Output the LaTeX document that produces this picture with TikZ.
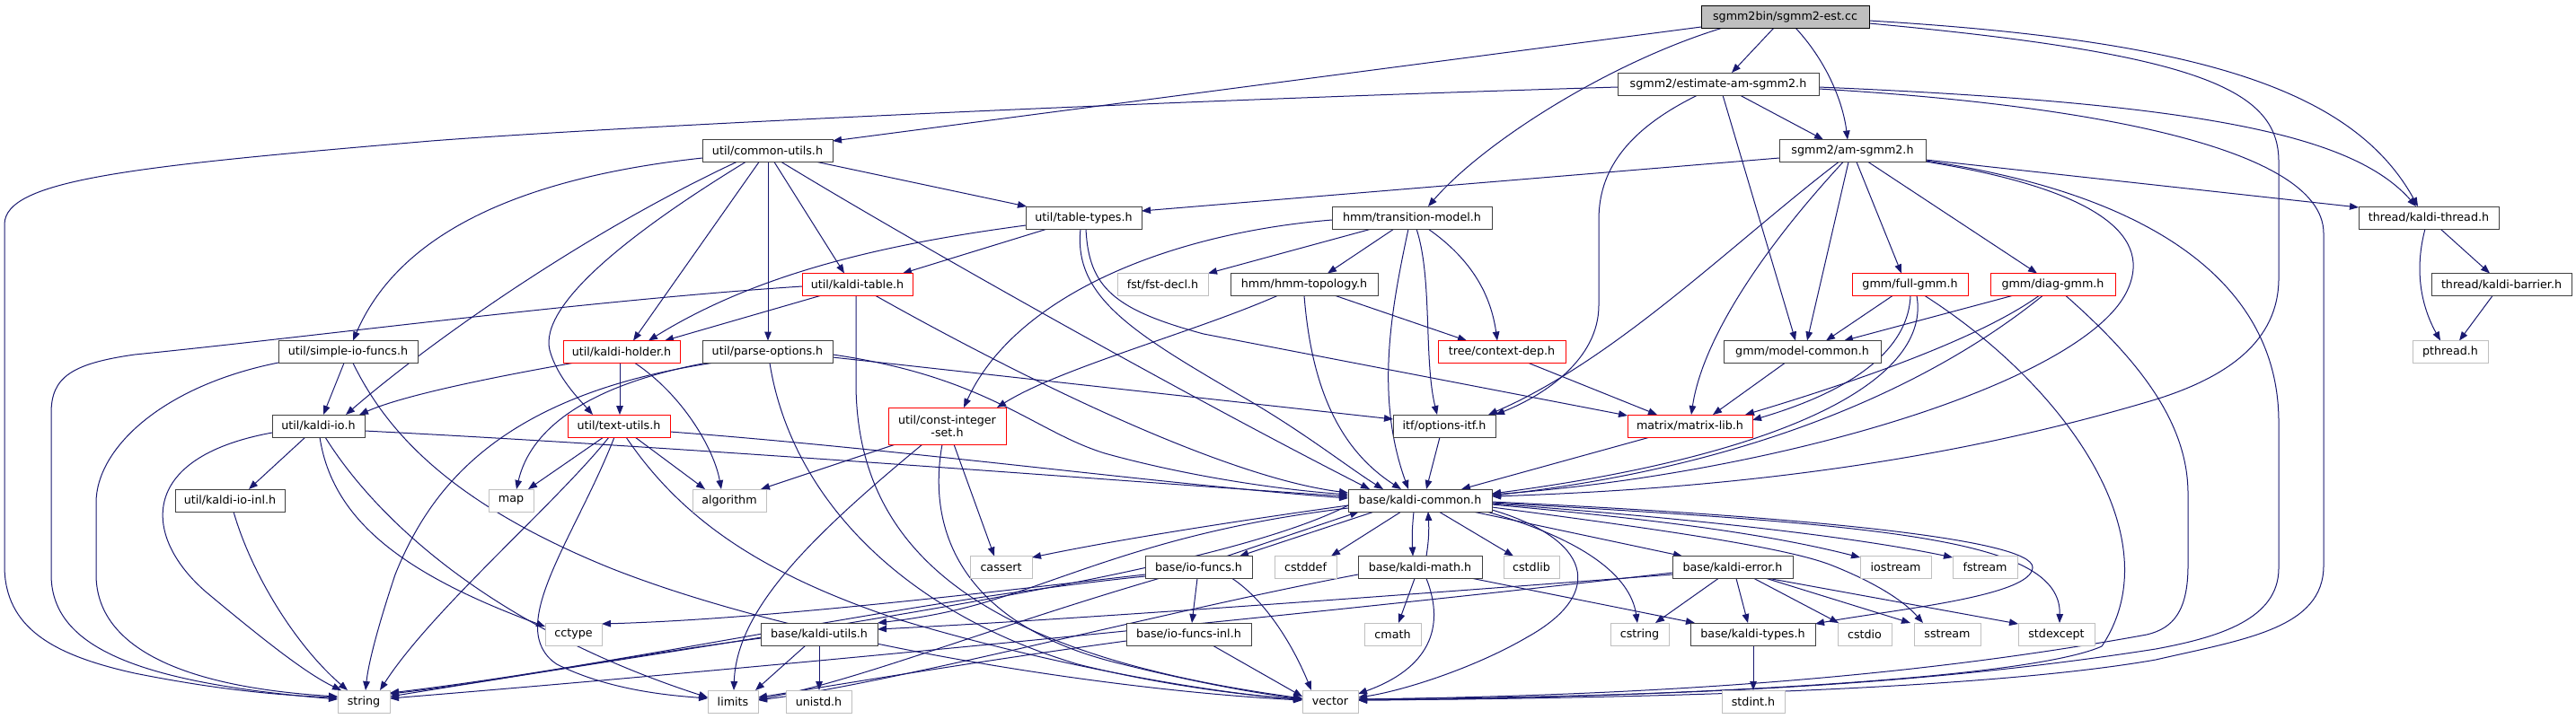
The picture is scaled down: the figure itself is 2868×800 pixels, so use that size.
\documentclass[tikz,border=0pt]{standalone}
\usepackage{fontspec}
\setmainfont{DejaVu Sans}
\usetikzlibrary{arrows.meta,calc,backgrounds}
\definecolor{edgec}{HTML}{191970}
\definecolor{nodeb}{HTML}{404040}
\definecolor{greyb}{HTML}{BFBFBF}
\definecolor{rootf}{HTML}{BFBFBF}
\tikzset{
  box/.style={draw, rectangle, inner sep=0pt, minimum height=12.5pt, fill=white, line width=0.5pt, font=\fontsize{6.35pt}{7.2pt}\selectfont, text=black},
  nb/.style={box, draw=nodeb},
  rb/.style={box, draw=red},
  gb/.style={box, draw=greyb},
  rootb/.style={box, draw=black, fill=rootf},
  e/.style={draw=edgec, line width=0.5pt, -{Triangle[length=5pt,width=3.8pt]}},
}
\begin{document}
\begin{tikzpicture}[x=0.5pt,y=-0.5pt]
\useasboundingbox (0,0) rectangle (2868,800);
% row 0-3
\node[rootb, minimum width=93.5pt] (est) at (1987.5,18.5) {sgmm2bin/sgmm2-est.cc};
\node[nb, minimum width=112pt] (eam) at (1913,93.5) {sgmm2/estimate-am-sgmm2.h};
\node[nb, minimum width=72.5pt] (cu) at (854.5,168) {util/common-utils.h};
\node[nb, minimum width=81.5pt] (am) at (2062.5,168) {sgmm2/am-sgmm2.h};
\node[nb, minimum width=64.5pt] (tt) at (1206.5,242.5) {util/table-types.h};
\node[nb, minimum width=89pt] (tm) at (1572,242.5) {hmm/transition-model.h};
\node[nb, minimum width=78pt] (kth) at (2704,242.5) {thread/kaldi-thread.h};
% row 4
\node[rb, minimum width=61.5pt] (kt) at (954.5,317) {util/kaldi-table.h};
\node[gb, minimum width=50.5pt] (fst) at (1294.5,317) {fst/fst-decl.h};
\node[nb, minimum width=82pt] (topo) at (1452,317) {hmm/hmm-topology.h};
\node[rb, minimum width=64.5pt] (fg) at (2126.5,317) {gmm/full-gmm.h};
\node[rb, minimum width=69.5pt] (dg) at (2285.5,317) {gmm/diag-gmm.h};
\node[nb, minimum width=78pt] (kb) at (2785,317) {thread/kaldi-barrier.h};
% row 5
\node[nb, minimum width=77.5pt] (sio) at (387.5,392) {util/simple-io-funcs.h};
\node[rb, minimum width=65pt] (kh) at (692,392) {util/kaldi-holder.h};
\node[nb, minimum width=72.5pt] (po) at (854.5,392) {util/parse-options.h};
\node[rb, minimum width=71pt] (cd) at (1672,392) {tree/context-dep.h};
\node[nb, minimum width=87.5pt] (mc) at (2006.5,392) {gmm/model-common.h};
\node[gb, minimum width=42pt] (pth) at (2728,392) {pthread.h};
% row 6
\node[nb, minimum width=51.5pt] (kio) at (354.5,474.5) {util/kaldi-io.h};
\node[rb, minimum width=57pt] (tu) at (689,474.5) {util/text-utils.h};
\node[rb, minimum width=65.5pt, minimum height=20.5pt, align=center] (cis) at (1054.5,474.5) {util/const-integer\\-set.h};
\node[nb, minimum width=57pt] (oi) at (1608,474.5) {itf/options-itf.h};
\node[rb, minimum width=69.5pt] (ml) at (1881.5,474.5) {matrix/matrix-lib.h};
% row 7
\node[nb, minimum width=61pt] (kioinl) at (256,557.5) {util/kaldi-io-inl.h};
\node[gb, minimum width=25pt] (map) at (569,557.5) {map};
\node[gb, minimum width=41pt] (alg) at (812,557.5) {algorithm};
\node[nb, minimum width=80pt] (kc) at (1581,557.5) {base/kaldi-common.h};
% row 8
\node[gb, minimum width=34.5pt] (cassert) at (1114.5,632) {cassert};
\node[nb, minimum width=59.5pt] (iof) at (1334.5,632) {base/io-funcs.h};
\node[gb, minimum width=34.5pt] (cstddef) at (1453.5,632) {cstddef};
\node[nb, minimum width=69pt] (km) at (1581,632) {base/kaldi-math.h};
\node[gb, minimum width=31pt] (cstdlib) at (1705,632) {cstdlib};
\node[nb, minimum width=67pt] (ke) at (1929,632) {base/kaldi-error.h};
\node[gb, minimum width=39.5pt] (iostream) at (2110.5,632) {iostream};
\node[gb, minimum width=36pt] (fstream) at (2210,632) {fstream};
% row 9
\node[gb, minimum width=31.5pt] (cctype) at (638.5,706.5) {cctype};
\node[nb, minimum width=65pt] (ku) at (912,706.5) {base/kaldi-utils.h};
\node[nb, minimum width=69.5pt] (iofinl) at (1323.5,706.5) {base/io-funcs-inl.h};
\node[gb, minimum width=31.5pt] (cmath) at (1550.5,706.5) {cmath};
\node[gb, minimum width=32.5pt] (cstring) at (1825.5,706.5) {cstring};
\node[nb, minimum width=69.5pt] (ktypes) at (1951.5,706.5) {base/kaldi-types.h};
\node[gb, minimum width=30pt] (cstdio) at (2076,706.5) {cstdio};
\node[gb, minimum width=37pt] (sstream) at (2168,706.5) {sstream};
\node[gb, minimum width=42.5pt] (stdexcept) at (2289.5,706.5) {stdexcept};
% row 10
\node[gb, minimum width=29pt] (string) at (405,781.5) {string};
\node[gb, minimum width=28pt] (limits) at (816,781.5) {limits};
\node[gb, minimum width=36.5pt] (unistd) at (911.5,781.5) {unistd.h};
\node[gb, minimum width=31pt] (vector) at (1481,781.5) {vector};
\node[gb, minimum width=35pt] (stdint) at (1952,781.5) {stdint.h};

\begin{pgfonlayer}{background}
% est
\draw[e] ($(est)+(-12.5,12.5)$) -- ($(eam)+(15,-12.5)$);
\draw[e] ($(est)+(11.5,12.5)$) .. controls (2035,70) and (2052,115) .. ($(am)+(-5.5,-12.5)$);
\draw[e] ($(est)+(-93.5,11.5)$) -- ($(cu)+(72.5,-11)$);
\draw[e] ($(est)+(-69.5,12.5)$) .. controls (1790,70) and (1650,160) .. ($(tm)+(18,-12.5)$);
\draw[e] ($(est)+(93.5,4.5)$) .. controls (2450,45) and (2620,100) .. ($(kth)+(-12,-12.5)$);
\draw[e] ($(est)+(93.5,7.5)$) .. controls (2450,60) and (2537,100) .. (2537,180) -- (2537,310) .. controls (2537,380) and (2480,420) .. (2400,445) .. controls (2150,520) and (1900,545) .. ($(kc)+(80,-4.5)$);
% eam
\draw[e] ($(eam)+(-112,3.5)$) .. controls (1300,112) and (700,140) .. (480,157) .. controls (150,185) and (5,200) .. (5,250) -- (5,630) .. controls (5,700) and (60,730) .. (150,750) .. controls (250,770) and (320,775) .. ($(string)+(-29,-4.5)$);
\draw[e] ($(eam)+(24,12.5)$) -- ($(am)+(-32.5,-12.5)$);
\draw[e] ($(eam)+(5,12.5)$) -- ($(mc)+(-7.5,-12.5)$);
\draw[e] ($(eam)+(-23,12.5)$) .. controls (1800,150) and (1780,200) .. (1780,245) -- (1780,340) .. controls (1780,400) and (1720,440) .. ($(oi)+(57,-12.5)$);
\draw[e] ($(eam)+(112,3.5)$) .. controls (2450,115) and (2620,150) .. ($(kth)+(-14,-12.5)$);
\draw[e] ($(eam)+(112,5.5)$) .. controls (2300,115) and (2587,160) .. (2587,260) -- (2587,630) .. controls (2587,700) and (2500,712) .. (2400,735) .. controls (2200,770) and (1800,778) .. ($(vector)+(31,-1.5)$);
% am
\draw[e] ($(am)+(-81.5,8)$) -- ($(tt)+(64.5,-7.5)$);
\draw[e] ($(am)+(81.5,10)$) -- ($(kth)+(-78,-11.5)$);
\draw[e] ($(am)+(81.5,11)$) .. controls (2420,220) and (2537,330) .. (2537,470) -- (2537,633) .. controls (2537,690) and (2470,710) .. (2400,723) .. controls (2100,770) and (1800,776) .. ($(vector)+(31,-2.5)$);
\draw[e] ($(am)+(81.5,12)$) .. controls (2330,210) and (2395,260) .. (2370,320) .. controls (2330,420) and (2000,525) .. ($(kc)+(80,-6.5)$);
\draw[e] ($(am)+(-15.5,12.5)$) .. controls (1930,270) and (1800,400) .. ($(oi)+(49,-12.5)$);
\draw[e] ($(am)+(-10.5,12.5)$) .. controls (1960,280) and (1895,380) .. ($(ml)+(1.5,-12.5)$);
\draw[e] ($(am)+(-4.5,12.5)$) -- ($(mc)+(5.5,-12.5)$);
\draw[e] ($(am)+(4.5,12.5)$) -- ($(fg)+(-9.5,-12.5)$);
\draw[e] ($(am)+(17.5,12.5)$) -- ($(dg)+(-17.5,-12.5)$);
% cu
\draw[e] ($(cu)+(-72.5,8)$) .. controls (560,200) and (440,270) .. ($(sio)+(5.5,-12.5)$);
\draw[e] ($(cu)+(-34.5,12.5)$) .. controls (650,260) and (480,380) .. ($(kio)+(30.5,-12.5)$);
\draw[e] ($(cu)+(-24.5,12.5)$) .. controls (700,260) and (600,340) .. (612,390) .. controls (620,420) and (645,445) .. ($(tu)+(-29,-12.5)$);
\draw[e] ($(cu)+(-9.5,12.5)$) -- ($(kh)+(13,-12.5)$);
\draw[e] ($(cu)+(0.5,12.5)$) -- ($(po)+(0.5,-12.5)$);
\draw[e] ($(cu)+(7.5,12.5)$) -- ($(kt)+(-14.5,-12.5)$);
\draw[e] ($(cu)+(15.5,12.5)$) .. controls (1000,260) and (1300,430) .. ($(kc)+(-56,-12.5)$);
\draw[e] ($(cu)+(55.5,12.5)$) -- ($(tt)+(-63.5,-12.5)$);
% tt
\draw[e] ($(tt)+(-64.5,8.5)$) .. controls (1000,270) and (850,300) .. ($(kh)+(30,-12.5)$);
\draw[e] ($(tt)+(-40.5,12.5)$) -- ($(kt)+(50.5,-12.5)$);
\draw[e] ($(tt)+(-3.5,12.5)$) .. controls (1195,330) and (1260,370) .. (1380,440) .. controls (1450,480) and (1500,520) .. ($(kc)+(-41,-12.5)$);
\draw[e] ($(tt)+(2.5,12.5)$) .. controls (1212,320) and (1240,345) .. (1340,372) -- ($(ml)+(-69.5,-11.5)$);
% tm
\draw[e] ($(tm)+(-89,2.5)$) .. controls (1300,260) and (1130,330) .. ($(cis)+(18.5,-20.5)$);
\draw[e] ($(tm)+(-45,12.5)$) -- ($(fst)+(50.5,-12.5)$);
\draw[e] ($(tm)+(-20,12.5)$) -- ($(topo)+(26,-12.5)$);
\draw[e] ($(tm)+(-4,12.5)$) .. controls (1550,340) and (1530,440) .. ($(kc)+(-13,-12.5)$);
\draw[e] ($(tm)+(5,12.5)$) .. controls (1595,310) and (1585,400) .. ($(oi)+(-8,-12.5)$);
\draw[e] ($(tm)+(18,12.5)$) .. controls (1640,290) and (1660,330) .. ($(cd)+(-5,-12.5)$);
% kt
\draw[e] ($(kt)+(-61.5,2)$) .. controls (650,335) and (350,375) .. (150,395) .. controls (80,405) and (57,420) .. (57,460) -- (57,640) .. controls (57,720) and (150,760) .. ($(string)+(-29,-2.5)$);
\draw[e] ($(kt)+(-41.5,12.5)$) -- ($(kh)+(48,-12.5)$);
\draw[e] ($(kt)+(20.5,12.5)$) .. controls (1100,400) and (1350,530) .. ($(kc)+(-80,-8.5)$);
\draw[e] ($(kt)+(-1.5,12.5)$) -- (953,430) .. controls (955,620) and (1100,730) .. ($(vector)+(-31,-3.5)$);
% kh
\draw[e] ($(kh)+(-55,12.5)$) .. controls (550,420) and (450,440) .. ($(kio)+(45.5,-12.5)$);
\draw[e] ($(kh)+(-2,12.5)$) -- ($(tu)+(1,-12.5)$);
\draw[e] ($(kh)+(15,12.5)$) .. controls (760,440) and (795,500) .. ($(alg)+(-9,-12.5)$);
% po
\draw[e] ($(po)+(-69.5,12.5)$) .. controls (650,430) and (590,480) .. ($(map)+(6,-12.5)$);
\draw[e] ($(po)+(-62.5,12.5)$) .. controls (560,440) and (480,540) .. (440,640) .. controls (420,700) and (410,740) .. ($(string)+(2,-12.5)$);
\draw[e] ($(po)+(2.5,12.5)$) .. controls (880,550) and (1000,680) .. (1200,740) .. controls (1300,765) and (1400,776) .. ($(vector)+(-31,-2.5)$);
\draw[e] ($(po)+(72.5,6)$) -- ($(oi)+(-57,-7.5)$);
\draw[e] ($(po)+(72.5,3)$) .. controls (1100,420) and (1150,480) .. (1230,505) .. controls (1320,530) and (1420,545) .. ($(kc)+(-80,-6.5)$);
% sio
\draw[e] ($(sio)+(-4.5,12.5)$) -- ($(kio)+(5.5,-12.5)$);
\draw[e] ($(sio)+(-77.5,12)$) .. controls (180,430) and (107,500) .. (107,560) -- (107,640) .. controls (107,720) and (200,765) .. ($(string)+(-29,-5.5)$);
\draw[e] ($(sio)+(5.5,12.5)$) .. controls (430,480) and (500,560) .. (680,633) .. controls (900,720) and (1250,770) .. ($(vector)+(-31,-1.5)$);
% kio
\draw[e] ($(kio)+(-14.5,12.5)$) -- ($(kioinl)+(21,-12.5)$);
\draw[e] ($(kio)+(-51.5,7.5)$) .. controls (150,510) and (160,600) .. (230,660) .. controls (290,710) and (340,750) .. ($(string)+(-25,-12.5)$);
\draw[e] ($(kio)+(1.5,12.5)$) .. controls (370,580) and (450,640) .. ($(cctype)+(-31.5,-8.5)$);
\draw[e] ($(kio)+(7.5,12.5)$) .. controls (420,580) and (550,700) .. ($(limits)+(-28,-4.5)$);
\draw[e] ($(kio)+(51.5,5.5)$) .. controls (800,500) and (1300,540) .. ($(kc)+(-80,-4.5)$);
\draw[e] ($(kioinl)+(4,12.5)$) .. controls (280,640) and (330,720) .. ($(string)+(-18,-12.5)$);
% tu
\draw[e] ($(tu)+(-17,12.5)$) -- ($(map)+(19,-12.5)$);
\draw[e] ($(tu)+(-11,12.5)$) .. controls (620,560) and (480,680) .. ($(string)+(18,-12.5)$);
\draw[e] ($(tu)+(-5,12.5)$) .. controls (640,600) and (560,700) .. (620,740) .. controls (680,770) and (750,775) .. ($(limits)+(-28,-3.5)$);
\draw[e] ($(tu)+(8,12.5)$) .. controls (760,580) and (850,640) .. (1000,690) .. controls (1200,750) and (1380,775) .. ($(vector)+(-31,-2.5)$);
\draw[e] ($(tu)+(18,12.5)$) -- ($(alg)+(-27,-12.5)$);
\draw[e] ($(tu)+(57,6.5)$) .. controls (1000,500) and (1300,540) .. ($(kc)+(-80,-2.5)$);
% cis
\draw[e] ($(cis)+(-57.5,20.5)$) -- ($(alg)+(35,-12.5)$);
\draw[e] ($(cis)+(-27.5,20.5)$) .. controls (900,600) and (820,680) .. ($(limits)+(1,-12.5)$);
\draw[e] ($(cis)+(-5.5,20.5)$) .. controls (1030,600) and (1080,700) .. (1250,740) .. controls (1350,765) and (1420,775) .. ($(vector)+(-31,-2.5)$);
\draw[e] ($(cis)+(7.5,20.5)$) -- ($(cassert)+(-7.5,-12.5)$);
% topo, cd, oi, ml, mc
\draw[e] ($(topo)+(35,12.5)$) -- ($(cd)+(-39,-12.5)$);
\draw[e] ($(topo)+(0,12.5)$) .. controls (1460,430) and (1490,500) .. ($(kc)+(-21,-12.5)$);
\draw[e] ($(topo)+(-30,12.5)$) .. controls (1330,370) and (1180,410) .. ($(cis)+(55.5,-20.5)$);
\draw[e] ($(cd)+(30,12.5)$) -- ($(ml)+(-36.5,-12.5)$);
\draw[e] ($(oi)+(-5,12.5)$) -- ($(kc)+(7,-12.5)$);
\draw[e] ($(ml)+(-44.5,12.5)$) -- ($(kc)+(46,-12.5)$);
\draw[e] ($(mc)+(-19.5,12.5)$) -- ($(ml)+(25.5,-12.5)$);
% fg
\draw[e] ($(fg)+(-19.5,12.5)$) -- ($(mc)+(26.5,-12.5)$);
\draw[e] ($(fg)+(0.5,12.5)$) .. controls (2125,380) and (2080,430) .. ($(ml)+(69.5,-6.5)$);
\draw[e] ($(fg)+(7.5,12.5)$) .. controls (2150,420) and (2000,505) .. ($(kc)+(80,-7.5)$);
\draw[e] ($(fg)+(16.5,12.5)$) .. controls (2300,430) and (2420,600) .. (2340,720) .. controls (2250,760) and (1800,778) .. ($(vector)+(31,-1.5)$);
% dg
\draw[e] ($(dg)+(-45.5,12.5)$) -- ($(mc)+(46.5,-12.5)$);
\draw[e] ($(dg)+(-15.5,12.5)$) .. controls (2200,380) and (2050,430) .. ($(ml)+(61.5,-12.5)$);
\draw[e] ($(dg)+(-11.5,12.5)$) .. controls (2150,430) and (1950,520) .. ($(kc)+(80,-5.5)$);
\draw[e] ($(dg)+(14.5,12.5)$) .. controls (2380,400) and (2436,470) .. (2436,550) -- (2436,630) .. controls (2436,680) and (2420,700) .. (2390,707) .. controls (2100,760) and (1800,775) .. ($(vector)+(31,-2.5)$);
% thread
\draw[e] ($(kth)+(-4,12.5)$) .. controls (2688,300) and (2695,340) .. ($(pth)+(-11,-12.5)$);
\draw[e] ($(kth)+(13,12.5)$) -- ($(kb)+(-13,-12.5)$);
\draw[e] ($(kb)+(-10,12.5)$) -- ($(pth)+(10,-12.5)$);
% kc
\draw[e] ($(kc)+(-80,5.5)$) .. controls (1380,580) and (1250,600) .. ($(cassert)+(34.5,-11)$);
\draw[e] ($(kc)+(-21,12.5)$) -- ($(cstddef)+(28.5,-12.5)$);
\draw[e] ($(kc)+(-7,12.5)$) .. controls (1572,590) and (1572,600) .. ($(km)+(-8,-12.5)$);
\draw[e] ($(km)+(7,-12.5)$) .. controls (1591,600) and (1591,590) .. ($(kc)+(9,12.5)$);
\draw[e] ($(kc)+(21,12.5)$) -- ($(cstdlib)+(-20,-12.5)$);
\draw[e] ($(kc)+(59,12.5)$) -- ($(ke)+(-56,-12.5)$);
\draw[e] ($(kc)+(74,12.5)$) .. controls (1760,600) and (1815,640) .. ($(cstring)+(-2.5,-12.5)$);
\draw[e] ($(kc)+(80,10.5)$) .. controls (1770,600) and (1790,660) .. (1700,710) .. controls (1640,745) and (1560,770) .. ($(vector)+(31,-4.5)$);
\draw[e] ($(kc)+(80,4.5)$) .. controls (1800,575) and (1950,590) .. ($(iostream)+(-39.5,-11)$);
\draw[e] ($(kc)+(80,3.5)$) .. controls (1850,575) and (2050,595) .. ($(fstream)+(-36,-11)$);
\draw[e] ($(kc)+(80,7.5)$) .. controls (1850,590) and (1990,610) .. (2040,630) .. controls (2090,650) and (2120,670) .. ($(sstream)+(-27,-12.5)$);
\draw[e] ($(kc)+(80,2.5)$) .. controls (2100,585) and (2295,600) .. ($(stdexcept)+(3.5,-12.5)$);
\draw[e] ($(kc)+(80,1.5)$) .. controls (2000,575) and (2263,600) .. (2263,632) .. controls (2263,665) and (2100,680) .. ($(ktypes)+(69.5,-11.5)$);
\draw[e] ($(kc)+(-80,8.5)$) .. controls (1300,590) and (1200,640) .. (1100,670) .. controls (1050,685) and (1010,690) .. ($(ku)+(65,-12.5)$);
\draw[e] ($(kc)+(-80,5.5)$) .. controls (1350,640) and (900,700) .. ($(string)+(29,-5.5)$);
\draw[e] ($(kc)+(-51,12.5)$) -- ($(iof)+(45.5,-12.5)$);
\draw[e] ($(iof)+(31.5,-12.5)$) -- ($(kc)+(-68,12.5)$);
% iof
\draw[e] ($(iof)+(-1.5,12.5)$) -- ($(iofinl)+(3.5,-12.5)$);
\draw[e] ($(iof)+(-59.5,8)$) .. controls (1100,660) and (850,690) .. ($(cctype)+(31.5,-11.5)$);
\draw[e] ($(iof)+(-59.5,10)$) .. controls (1000,670) and (700,740) .. ($(string)+(29,-9.5)$);
\draw[e] ($(iof)+(-44.5,12.5)$) .. controls (1100,700) and (950,760) .. ($(limits)+(28,-2.5)$);
\draw[e] ($(iof)+(37.5,12.5)$) .. controls (1410,670) and (1440,720) .. ($(vector)+(-21,-12.5)$);
\draw[e] ($(iofinl)+(-69.5,7.5)$) .. controls (1100,735) and (950,760) .. ($(limits)+(28,-4.5)$);
\draw[e] ($(iofinl)+(26.5,12.5)$) -- ($(vector)+(-31,-5.5)$);
% km
\draw[e] ($(km)+(-6,12.5)$) -- ($(cmath)+(6.5,-12.5)$);
\draw[e] ($(km)+(7,12.5)$) .. controls (1610,700) and (1590,745) .. ($(vector)+(31,-8.5)$);
\draw[e] ($(km)+(59,12.5)$) -- ($(ktypes)+(-64.5,-12.5)$);
\draw[e] ($(km)+(-69,8)$) .. controls (1300,680) and (1000,760) .. ($(limits)+(28,-1.5)$);
% ke
\draw[e] ($(ke)+(-16,12.5)$) -- ($(cstring)+(17.5,-12.5)$);
\draw[e] ($(ke)+(4,12.5)$) -- ($(ktypes)+(-5.5,-12.5)$);
\draw[e] ($(ke)+(24,12.5)$) -- ($(cstdio)+(-29,-12.5)$);
\draw[e] ($(ke)+(38,12.5)$) -- ($(sstream)+(-41,-12.5)$);
\draw[e] ($(ke)+(41,12.5)$) -- ($(stdexcept)+(-42.5,-11.5)$);
\draw[e] ($(ke)+(-67,6)$) .. controls (1500,680) and (900,740) .. ($(string)+(29,-3.5)$);
\draw[e] ($(ke)+(-67,8)$) .. controls (1600,660) and (1200,690) .. ($(ku)+(65,-5.5)$);
% ku, ktypes
\draw[e] ($(ku)+(-15,12.5)$) -- ($(limits)+(25,-12.5)$);
\draw[e] ($(ku)+(0,12.5)$) -- ($(unistd)+(0.5,-12.5)$);
\draw[e] ($(ku)+(-65,4.5)$) .. controls (700,730) and (550,760) .. ($(string)+(29,-8.5)$);
\draw[e] ($(ktypes)+(0.5,12.5)$) -- ($(stdint)+(0,-12.5)$);
\end{pgfonlayer}
\end{tikzpicture}
\end{document}
